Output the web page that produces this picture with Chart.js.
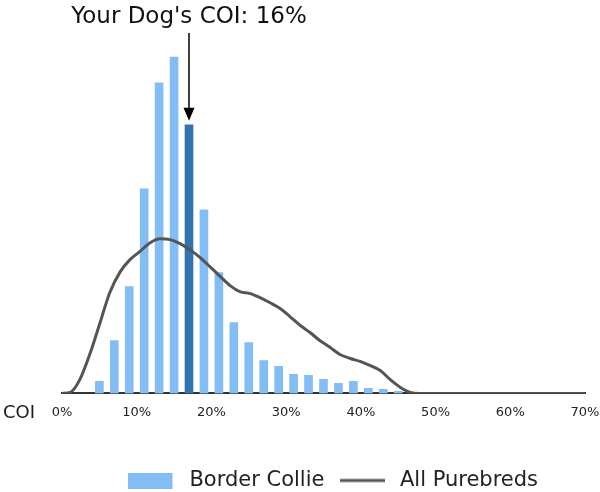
<!DOCTYPE html>
<html>
<head>
<meta charset="utf-8">
<script src="https://cdn.jsdelivr.net/npm/chart.js@4.4.1/dist/chart.umd.min.js"></script>
<style>
  html, body { margin: 0; padding: 0; background: #fff; }
  #wrap { width: 600px; height: 492px; }
</style>
</head>
<body>
<div id="wrap"><canvas id="chart"></canvas></div>
<script>
// Border Collie COI histogram, 2% bins (bin centres)
const binCenters = [5, 7, 9, 11, 13, 15, 17, 19, 21, 23, 25, 27, 29, 31, 33, 35, 37, 39, 41, 43, 45];
const collieCounts = [12, 53, 107, 205, 311, 337, 269, 184, 121, 71, 51, 33, 27, 19, 18, 14, 10, 12, 5, 4, 2];

// All purebreds density curve (same vertical units)
const curveX = [0, 1.1, 2.4, 3.8, 5.1, 6.4, 7.8, 9.1, 10.4, 11.8, 13.1, 14.5, 15.8, 17.1, 18.5, 19.8, 21.2, 22.5, 23.8, 25.2, 26.5, 27.8, 29.2, 30.5, 31.9, 33.2, 34.5, 35.9, 37.2, 38.6, 39.9, 41.2, 42.6, 43.9, 45.3, 46.6, 47.9, 70];
const curveY = [0, 1, 14, 41, 71, 101, 122, 134, 142, 151, 155, 154, 150, 144, 136, 127, 117, 108, 102, 100, 96, 91, 85, 77, 68, 61, 53, 46, 39, 35, 32, 28, 23, 14, 6, 1, 0, 0];

const xTicks = [0, 10, 20, 30, 40, 50, 60, 70];
const dogCoi = 16;
const dogBin = 17;

const lightBlue = '#82bef5';
const darkBlue = '#3274b1';
const curveColor = '#555555';

Chart.defaults.font.family = 'DejaVu Sans';

const barData = binCenters.map((x, i) => ({ x: x, y: collieCounts[i] }));
const barColors = binCenters.map(x => x === dogBin ? darkBlue : lightBlue);
const lineData = curveX.map((x, i) => ({ x: x, y: curveY[i] }));

// legend markers with a bit of blank space on the right
function marker(w, draw) {
  const c = document.createElement('canvas');
  c.width = w;
  c.height = 16;
  draw(c.getContext('2d'));
  return c;
}
const boxMarker = marker(51, g => {
  g.fillStyle = lightBlue;
  g.fillRect(0, 0, 44, 16);
});
const lineMarker = marker(49, g => {
  g.strokeStyle = curveColor;
  g.lineWidth = 3;
  g.beginPath();
  g.moveTo(0, 8);
  g.lineTo(45, 8);
  g.stroke();
});

// title, arrow and the "COI" axis word
const annotate = {
  id: 'annotate',
  afterDraw(chart) {
    const ctx = chart.ctx;
    const xs = chart.scales.x;
    const ys = chart.scales.y;
    const ax = xs.getPixelForValue(dogBin);
    const barTop = ys.getPixelForValue(collieCounts[binCenters.indexOf(dogBin)]);
    ctx.save();

    ctx.fillStyle = '#111';
    ctx.font = '23px "DejaVu Sans"';
    ctx.textAlign = 'center';
    ctx.textBaseline = 'alphabetic';
    ctx.fillText("Your Dog's COI: " + dogCoi + '%', ax, 23);

    const tipY = barTop - 4;
    ctx.strokeStyle = '#000';
    ctx.lineWidth = 1.5;
    ctx.beginPath();
    ctx.moveTo(ax, 33);
    ctx.lineTo(ax, tipY - 10);
    ctx.stroke();
    ctx.fillStyle = '#000';
    ctx.beginPath();
    ctx.moveTo(ax - 5.5, tipY - 13);
    ctx.lineTo(ax + 5.5, tipY - 13);
    ctx.lineTo(ax, tipY);
    ctx.closePath();
    ctx.fill();

    ctx.fillStyle = '#1a1a1a';
    ctx.font = '18px "DejaVu Sans"';
    ctx.textAlign = 'left';
    ctx.textBaseline = 'middle';
    ctx.fillText('COI', 3, 413);
    ctx.restore();
  }
};

new Chart(document.getElementById('chart'), {
  data: {
    datasets: [
      {
        type: 'bar',
        label: 'Border Collie',
        data: barData,
        backgroundColor: barColors,
        borderWidth: 0,
        barThickness: 8,
        order: 2
      },
      {
        type: 'line',
        label: 'All Purebreds',
        data: lineData,
        borderColor: curveColor,
        backgroundColor: curveColor,
        borderWidth: 3,
        pointRadius: 0,
        fill: false,
        cubicInterpolationMode: 'monotone',
        order: 1
      }
    ]
  },
  options: {
    responsive: true,
    maintainAspectRatio: false,
    animation: false,
    layout: {
      padding: { top: 34, left: 62, right: -5, bottom: -9 }
    },
    scales: {
      x: {
        type: 'linear',
        offset: false,
        min: 0,
        max: 70,
        afterBuildTicks(scale) {
          scale.ticks = xTicks.map(v => ({ value: v }));
        },
        afterFit(scale) {
          scale.height += 24;
          scale.paddingLeft = 0;
          scale.paddingRight = 15;
        },
        grid: { display: false, drawTicks: false },
        border: { display: true, color: '#333', width: 2 },
        ticks: {
          color: '#222',
          font: { size: 13 },
          padding: 11,
          maxRotation: 0,
          callback: v => v + '%'
        }
      },
      y: {
        display: false,
        min: 0,
        max: 360
      }
    },
    plugins: {
      tooltip: { enabled: false },
      legend: {
        position: 'bottom',
        labels: {
          usePointStyle: true,
          pointStyleWidth: 50,
          boxHeight: 16,
          padding: 15,
          color: '#222',
          font: { size: 21 },
          sort: (a, b) => a.datasetIndex - b.datasetIndex,
          generateLabels(chart) {
            const items = Chart.defaults.plugins.legend.labels.generateLabels(chart);
            items.forEach(it => {
              it.pointStyle = it.datasetIndex === 0 ? boxMarker : lineMarker;
              it.lineWidth = 0;
            });
            return items;
          }
        }
      }
    }
  },
  plugins: [annotate]
});
</script>
</body>
</html>
